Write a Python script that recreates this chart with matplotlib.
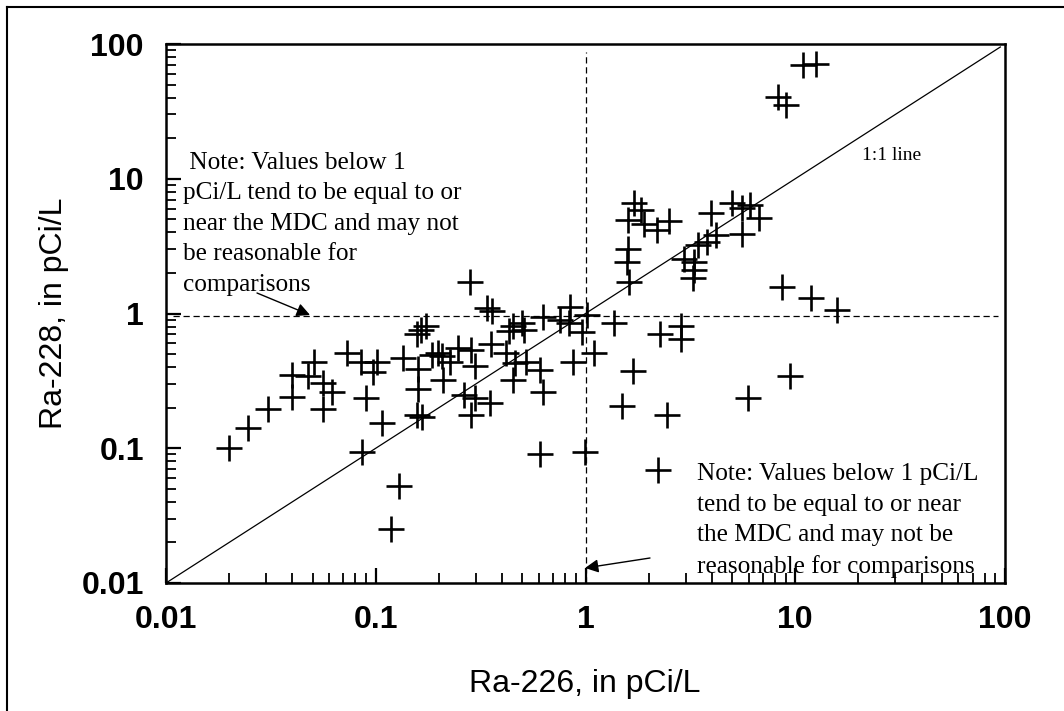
import matplotlib
matplotlib.use('Agg')
import matplotlib.pyplot as plt
from matplotlib.lines import Line2D
from matplotlib.ticker import FixedLocator, FixedFormatter, NullFormatter

# Ra-226 (x) and Ra-228 (y) concentrations, pCi/L
ra226 = [0.020, 0.0247, 0.0307, 0.0398, 0.0398, 0.0476, 0.0510, 0.0562, 0.0562, 0.0617,
         0.0727, 0.0846, 0.0973, 0.090, 0.0861, 0.101, 0.107, 0.129, 0.118, 0.135,
         0.159, 0.159, 0.157, 0.167, 0.157, 0.165, 0.174, 0.185, 0.198, 0.206,
         0.209, 0.225, 0.248, 0.281, 0.286, 0.297, 0.263, 0.297, 0.286, 0.35,
         0.34, 0.36, 0.356, 0.43, 0.45, 0.50, 0.63, 0.754, 0.84, 0.83,
         0.46, 0.52, 0.42, 0.51, 0.45, 0.61, 0.63, 0.61, 0.87, 1.02,
         0.96, 1.10, 1.36, 0.99, 1.49, 1.69, 2.26, 2.84, 2.84, 2.44,
         2.22, 5.94, 9.45, 8.6, 11.9, 15.8, 12.6, 10.9, 8.24, 9.07,
         1.71, 1.83, 1.60, 1.90, 2.20, 2.49, 1.60, 1.58, 1.62, 3.98,
         5.0, 5.57, 6.06, 6.7, 4.2, 3.8, 3.45, 2.95, 3.3, 3.28,
         3.25, 5.6]
ra228 = [0.100, 0.141, 0.196, 0.239, 0.350, 0.346, 0.434, 0.303, 0.196, 0.260,
         0.510, 0.434, 0.370, 0.235, 0.0933, 0.44, 0.153, 0.0526, 0.0250, 0.47,
         0.39, 0.274, 0.176, 0.171, 0.70, 0.758, 0.81, 0.49, 0.51, 0.48,
         0.32, 0.44, 0.555, 1.70, 0.535, 0.41, 0.249, 0.235, 0.176, 0.215,
         1.09, 1.05, 0.59, 0.74, 0.81, 0.85, 0.95, 0.89, 1.12, 0.85,
         0.43, 0.44, 0.51, 0.758, 0.32, 0.38, 0.26, 0.0905, 0.44, 0.98,
         0.73, 0.51, 0.85, 0.093, 0.205, 0.376, 0.71, 0.81, 0.65, 0.178,
         0.0695, 0.235, 0.344, 1.58, 1.30, 1.06, 71.1, 69.9, 40.6, 35.3,
         6.59, 5.88, 4.94, 4.64, 4.20, 4.88, 2.99, 2.43, 1.72, 5.61,
         6.59, 3.88, 6.4, 5.09, 3.8, 3.39, 3.25, 2.52, 2.4, 2.12,
         1.82, 6.06]

tick_vals = [0.01, 0.1, 1, 10, 100]
tick_labels = ['0.01', '0.1', '1', '10', '100']
minor_vals = [m * d for d in [0.01, 0.1, 1, 10] for m in range(2, 10)]

W, H = 1064, 711
fig = plt.figure(figsize=(W / 100, H / 100), dpi=100)
ax = fig.add_axes([166 / W, 1 - 583 / H, (1005 - 166) / W, (583 - 44) / H])
ax.set_xscale('log')
ax.set_yscale('log')
ax.set_xlim(0.01, 100)
ax.set_ylim(0.01, 100)

ax.plot(ra226, ra228, ls='none', marker='+', ms=19, mew=1.9, color='black', zorder=3)
ax.plot([0.01, 95], [0.01, 95], color='black', lw=0.9, zorder=2)
ax.plot([0.0108, 92.6], [0.96, 0.96], color='black', lw=0.9, ls=(0, (5, 3)), zorder=2)
ax.plot([1, 1], [0.01, 87], color='black', lw=0.9, ls=(0, (5, 3)), zorder=2)

for axis in (ax.xaxis, ax.yaxis):
    axis.set_major_locator(FixedLocator(tick_vals))
    axis.set_major_formatter(FixedFormatter(tick_labels))
    axis.set_minor_locator(FixedLocator(minor_vals))
    axis.set_minor_formatter(NullFormatter())

ax.tick_params(which='both', direction='in', top=False, right=False, color='black')
ax.tick_params(which='major', length=11, width=1.6, pad=16)
ax.tick_params(which='minor', length=7, width=1.3)
for lab in ax.get_xticklabels() + ax.get_yticklabels():
    lab.set_fontfamily('Liberation Sans')
    lab.set_fontweight('bold')
    lab.set_fontsize(23)
for sp in ax.spines.values():
    sp.set_linewidth(1.8)

fig.text(585 / W, 1 - 684 / H, 'Ra-226, in pCi/L', ha='center', va='center',
         family='Liberation Sans', fontsize=23)
fig.text(54 / W, 1 - 313 / H, 'Ra-228, in pCi/L', ha='center', va='center',
         rotation=90, family='Liberation Sans', fontsize=23)

note_left = (' Note: Values below 1\npCi/L tend to be equal to or\nnear the MDC and may not\n'
             'be reasonable for\ncomparisons')
note_right = ('Note: Values below 1 pCi/L\ntend to be equal to or near\n'
              'the MDC and may not be\nreasonable for comparisons')
fig.text(183 / W, 1 - 152 / H, note_left, ha='left', va='top',
         family='Liberation Serif', fontsize=18.2, linespacing=1.5)
fig.text(697 / W, 1 - 463 / H, note_right, ha='left', va='top',
         family='Liberation Serif', fontsize=18.2, linespacing=1.5)
fig.text(862 / W, 1 - 147 / H, '1:1 line', ha='left', va='top',
         family='Liberation Serif', fontsize=14)

ax.annotate('', xy=(310, H - 315), xytext=(257, H - 293), xycoords='figure pixels',
            textcoords='figure pixels',
            arrowprops=dict(arrowstyle='-|>', color='black', lw=1, mutation_scale=20,
                            shrinkA=0, shrinkB=0))
ax.annotate('', xy=(585, H - 568), xytext=(650, H - 558), xycoords='figure pixels',
            textcoords='figure pixels',
            arrowprops=dict(arrowstyle='-|>', color='black', lw=1, mutation_scale=20,
                            shrinkA=0, shrinkB=0))

# outer frame
fig.add_artist(Line2D([7 / W, 7 / W], [0, 1 - 7 / H], transform=fig.transFigure,
                      color='black', lw=1.5))
fig.add_artist(Line2D([7 / W, 1], [1 - 7 / H, 1 - 7 / H], transform=fig.transFigure,
                      color='black', lw=1.5))

fig.savefig('out.png', dpi=100)
